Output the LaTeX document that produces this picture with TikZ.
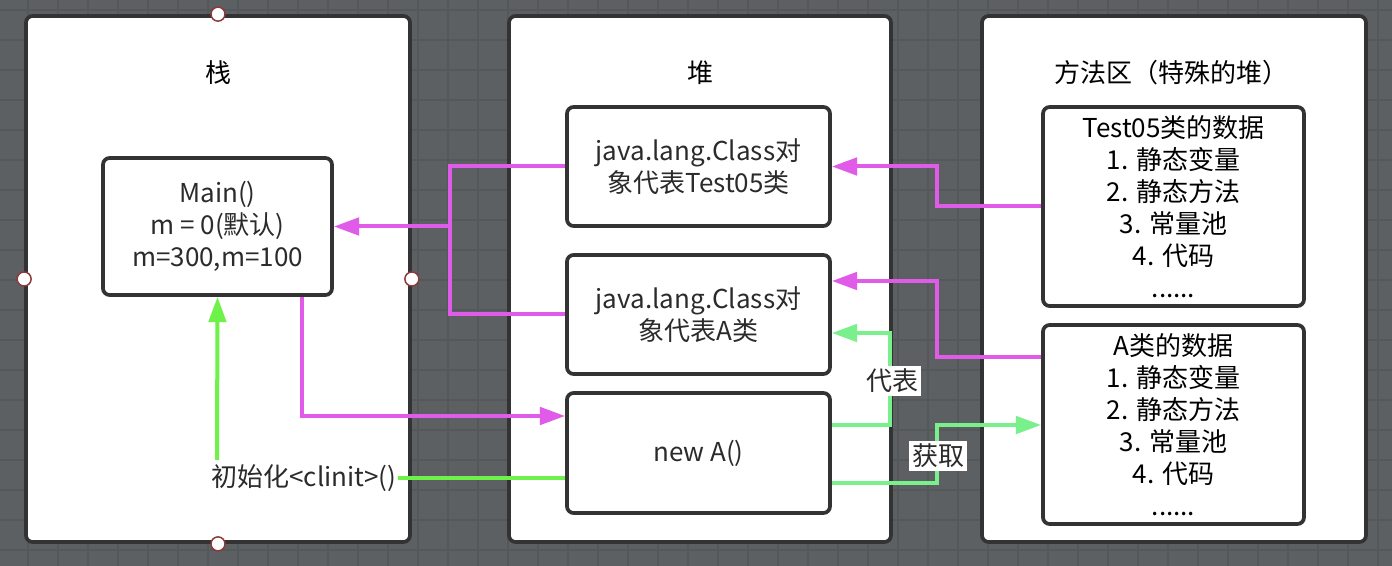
\documentclass[tikz,border=0pt]{standalone}
\usepackage{fontspec}
\setmainfont{Noto Sans CJK SC}
\usetikzlibrary{arrows.meta,calc}
\definecolor{bg}{HTML}{5C6063}
\definecolor{gridc}{HTML}{54585B}
\definecolor{edge}{HTML}{333333}
\definecolor{txt}{HTML}{2B2B2B}
\definecolor{mag}{HTML}{E05CE8}
\definecolor{lime}{HTML}{6EF24A}
\definecolor{mint}{HTML}{7AF08C}
\definecolor{handle}{HTML}{8B3A3A}
\begin{document}
\begin{tikzpicture}[x=0.75pt,y=-0.75pt,
  panel/.style={draw=edge,line width=2.8pt,fill=white,rounded corners=5pt,inner sep=0pt,
    minimum width=288pt,minimum height=394.5pt},
  box/.style={draw=edge,line width=2.8pt,fill=white,rounded corners=5pt,inner sep=0pt,
    align=center,text=txt,font=\fontsize{19.5}{24}\selectfont},
  title/.style={text=black,font=\fontsize{19.5}{24}\selectfont,inner sep=0pt},
  handledot/.style={circle,draw=handle,fill=white,line width=1.1pt,minimum size=10.5pt,inner sep=0pt},
  conn/.style={line width=3pt},
  tip/.style={-{Triangle[length=19pt,width=13pt]}},
  lab/.style={fill=white,text=txt,font=\fontsize{19.5}{24}\selectfont,inner sep=2pt}
]
\useasboundingbox (0,0) rectangle (1392,566);
\fill[bg] (0,0) rectangle (1392,566);
\foreach \gx in {28,58,...,1378} \draw[gridc,line width=0.8pt] (\gx,0) -- (\gx,566);
\foreach \gy in {10,40,...,550} \draw[gridc,line width=0.8pt] (0,\gy) -- (1392,\gy);

% panels
\node[panel] (stack) at (218,279) {};
\node[panel,minimum width=286.5pt] (heap) at (700,279) {};
\node[panel] (method) at (1174,279) {};
\node[handledot] (h1) at (stack.north) {};
\node[handledot] (h2) at (stack.west) {};
\node[handledot] (h3) at (stack.east) {};
\node[handledot] (h4) at (stack.south) {};

\node[title] (t1) at (218,73) {栈};
\node[title] (t2) at (700,73) {堆};
\node[title] (t3) at (1171,73) {方法区（特殊的堆）};

% boxes
\node[box,minimum width=171.75pt,minimum height=102.75pt] (main) at (217.5,226.5)
  {Main()\\m = 0(默认)\\m=300,m=100};
\node[box,minimum width=197.25pt,minimum height=89.25pt] (box1) at (698.5,166.5)
  {java.lang.Class对\\象代表Test05类};
\node[box,minimum width=197.25pt,minimum height=89.25pt] (box2) at (698.5,314.5)
  {java.lang.Class对\\象代表A类};
\node[box,minimum width=197.25pt,minimum height=90pt] (box3) at (698.5,453)
  {new A()};
\node[box,text=black,minimum width=195.75pt,minimum height=149.25pt] (tdata) at (1173.5,206.5)
  {Test05类的数据\\1. 静态变量\\2. 静态方法\\3. 常量池\\4. 代码\\......};
\node[box,text=black,minimum width=195.75pt,minimum height=149.25pt] (adata) at (1173.5,424.5)
  {A类的数据\\1. 静态变量\\2. 静态方法\\3. 常量池\\4. 代码\\......};

\node[text=txt,font=\fontsize{19.5}{24}\selectfont,inner sep=1pt] (clinit) at (304,478) {初始化<clinit>()};

% coordinates
\coordinate (j) at (450,228);
\coordinate (m1) at (302,416);
\coordinate (g0) at (217,460);
\coordinate (v) at (937,0);
\coordinate (d1) at (890,425);
\coordinate (d2) at (890,333);
\coordinate (q1) at (937,483);
\coordinate (q2) at (937,425);

% magenta connectors
\draw[conn,mag] (box1.west) -| (j |- box2.west) -- (box2.west);
\draw[conn,mag,tip] (j |- main.east) -- (main.east);
\draw[conn,mag,tip] (main.south -| m1) |- (box3.west |- m1);
\draw[conn,mag,tip] (tdata.west) -- (v |- tdata.west) -- (v |- box1.east) -- (box1.east);
\draw[conn,mag,tip] (adata.west |- 0,357) -- (v |- 0,357) -- (v |- 0,281) -- (box2.east |- 0,281);

% green connectors
\draw[conn,lime,tip] (g0) -- (main.south);
\draw[conn,lime] (clinit.east) -- (box3.west |- clinit.east);
\draw[conn,mint,tip] (box3.east |- d1) -- (d1) -- (d2) -- (box2.east |- d2);
\draw[conn,mint,tip] (box3.east |- q1) -- (q1) -- (q2) -- (adata.west |- q2);

\node[lab] (l1) at (892,381) {代表};
\node[lab] (l2) at (938,456) {获取};
\end{tikzpicture}
\end{document}
